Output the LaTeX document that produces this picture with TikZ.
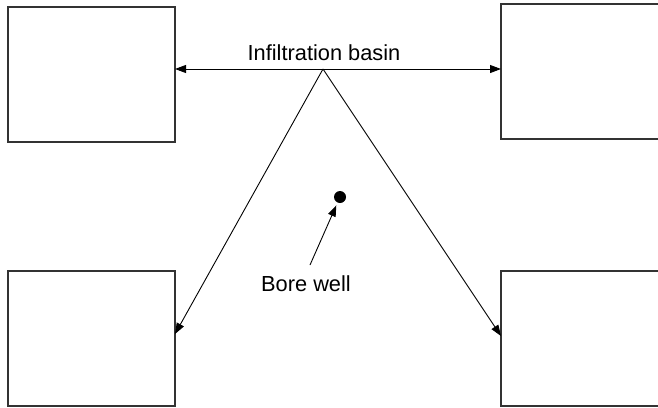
\documentclass[tikz,border=0pt]{standalone}
\usepackage{fontspec}
\setmainfont{Liberation Sans}
\usetikzlibrary{arrows.meta}
\begin{document}
\begin{tikzpicture}[x=1pt,y=-1pt,
  boxst/.style={draw=black!80,line width=1.1pt},
  arr/.style={draw=black,line width=0.9pt,-{Triangle[length=11pt,width=8pt]}},
  lbl/.style={font=\fontsize{21.8}{24}\selectfont,inner sep=0pt}]
\useasboundingbox (0,0) rectangle (658,407);
\draw[boxst] (8,7) rectangle (175,142);
\coordinate (tl) at (175,69);
\draw[boxst] (659,4) -- (501,4) -- (501,139) -- (659,139);
\coordinate (tr) at (501,69);
\draw[boxst] (8,271) rectangle (175,406);
\coordinate (bl) at (175,334);
\draw[boxst] (659,271) -- (501,271) -- (501,406) -- (659,406);
\coordinate (br) at (501,336);
\coordinate (apex) at (323,69);
\node[lbl,anchor=base] (basin) at (324,60) {Infiltration basin};
\draw[arr] (apex) -- (tl);
\draw[arr] (apex) -- (tr);
\draw[arr] (apex) -- (bl);
\draw[arr] (apex) -- (br);
\node[circle,fill=black,minimum size=12pt,inner sep=0pt] (well) at (340,197) {};
\node[lbl,anchor=base] (borelbl) at (306,291) {Bore well};
\coordinate (wstart) at (310,265);
\draw[arr,shorten >=3pt] (wstart) -- (well);
\end{tikzpicture}
\end{document}
